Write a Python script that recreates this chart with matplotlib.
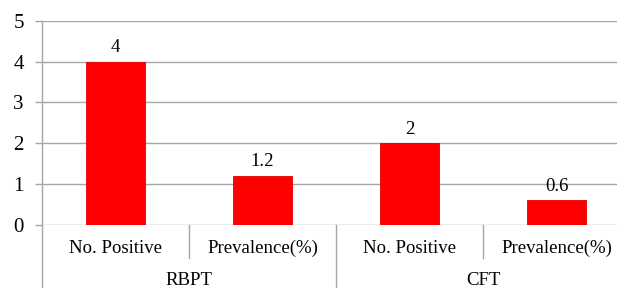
import matplotlib.pyplot as plt

plt.rcParams['font.family'] = ['Liberation Serif', 'DejaVu Serif']

groups = ['RBPT', 'CFT']
items = ['No. Positive', 'Prevalence(%)']
values = [4, 1.2, 2, 0.6]
yticks = [0, 1, 2, 3, 4, 5]

labels = [it for g in groups for it in items]
x = list(range(len(labels)))

fig = plt.figure(figsize=(6.17, 2.88), dpi=100)
ax = fig.add_axes([0.068, 0.219, 0.932, 0.709])

grid_color = '#a6a6a6'
ax.bar(x, values, width=0.4, color='#ff0000', edgecolor='#e00000', linewidth=0.6, zorder=3)
for xi, v in zip(x, values):
    ax.annotate(f'{v:g}', (xi, v), xytext=(0, 4), textcoords='offset points',
                ha='center', va='bottom', fontsize=13.5)

ax.set_xlim(-0.5, 3.41)
ax.set_ylim(0, 5)
ax.set_yticks(yticks)
ax.yaxis.grid(True, color=grid_color, linewidth=1.0, zorder=0)
ax.set_axisbelow(True)
ax.tick_params(axis='y', length=5, width=1, color=grid_color, pad=8, labelsize=15)
ax.set_xticks([])
for s in ['top', 'right', 'bottom']:
    ax.spines[s].set_visible(False)
ax.spines['left'].set_color(grid_color)
ax.spines['left'].set_linewidth(1.0)

tr = ax.get_xaxis_transform()
# left axis line extended below the plot
ax.plot([-0.5, -0.5], [0, -0.31], transform=tr, color=grid_color, lw=1.0, clip_on=False)
# separators between items and groups
n_items = len(items)
for i in range(1, len(labels) + 1):
    xb = i - 0.5
    bottom = -0.31 if i % n_items == 0 else -0.16
    ax.plot([xb, xb], [0, bottom], transform=tr, color=grid_color, lw=1.0, clip_on=False)

for xi, lab in zip(x, labels):
    ax.text(xi, -0.113, lab, transform=tr, ha='center', va='center', fontsize=13.5)
for gi, g in enumerate(groups):
    xc = gi * n_items + (n_items - 1) / 2
    ax.text(xc, -0.27, g, transform=tr, ha='center', va='center', fontsize=13.5)

fig.savefig('out.png', dpi=100)
